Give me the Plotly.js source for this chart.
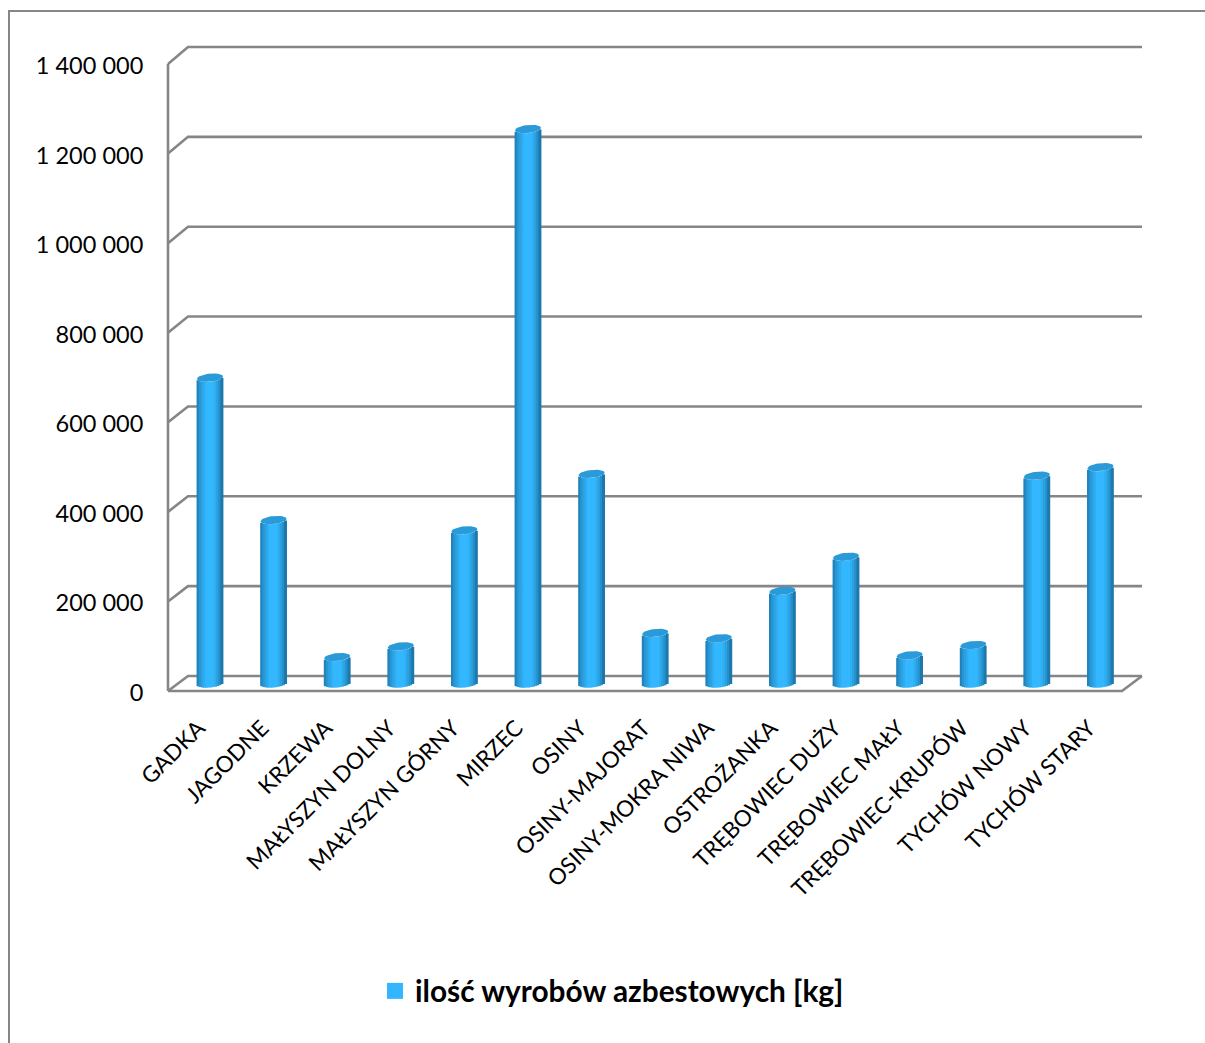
<!DOCTYPE html>
<html><head><meta charset="utf-8">
<script src="https://cdn.plot.ly/plotly-3.0.1.min.js"></script>
<style>html,body{margin:0;padding:0;background:#fff}#c{width:1205px;height:1043px}</style>
</head><body><div id="c"></div>
<script>
const categories = ["GADKA","JAGODNE","KRZEWA","MAŁYSZYN DOLNY","MAŁYSZYN GÓRNY","MIRZEC","OSINY","OSINY-MAJORAT","OSINY-MOKRA NIWA","OSTROŻANKA","TRĘBOWIEC DUŻY","TRĘBOWIEC MAŁY","TRĘBOWIEC-KRUPÓW","TYCHÓW NOWY","TYCHÓW STARY"];
const values = [683000,365000,59000,83000,342000,1238000,468000,113000,101000,207000,283000,63000,86000,464000,483000];
const tickValues = [0,200000,400000,600000,800000,1000000,1200000,1400000];
const tickLabels = ["0","200 000","400 000","600 000","800 000","1 000 000","1 200 000","1 400 000"];
const seriesName = "ilość wyrobów azbestowych [kg]";
const seriesColor = "#33b5ff";
const gridColor = "#868686";

// page geometry
const W=1205,H=1043,L=160,R=1150,T=40,B=700;
const step=63.6, c0=210, S=627/1400000;
const xAt=p=>(p-c0)/step;
const frontL=xAt(168),backL=xAt(188),frontR=xAt(1122),backR=xAt(1142);
const back=v=>(691-(676-v*629/1400000))/S;
const idx=categories.map((_,i)=>i);

// frame
const fx=[],fy=[];
tickValues.forEach(v=>{fx.push(frontL,backL,backR,null);fy.push(v,back(v),back(v),null);});
fx.push(frontL,frontL,null,frontL,frontR,backR);
fy.push(0,1400000,null,0,0,back(0));
const data=[{type:'scatter',mode:'lines',x:fx,y:fy,xaxis:'x',yaxis:'y',showlegend:false,hoverinfo:'skip',line:{color:gridColor,width:2.6}}];

// cylinder sides as strips of bars
const stops=[[-1,[28,122,176]],[-0.75,[40,150,210]],[-0.25,[51,183,255]],[0.3,[51,183,255]],[0.7,[40,152,212]],[1,[24,108,158]]];
function colorAt(u){for(let i=1;i<stops.length;i++){if(u<=stops[i][0]){const a=stops[i-1],b=stops[i],t=(u-a[0])/(b[0]-a[0]);return 'rgb('+a[1].map((c,k)=>Math.round(c+(b[1][k]-c)*t)).join(',')+')';}}return 'rgb(24,108,158)';}
const halfPx=13, stripPx=3, N=12, halfW=halfPx/step, ry=4/S, tilt=1.2/S;
for(let s=0;s<N;s++){
  const u=-1+(s+0.5)*2/N, e=Math.sqrt(1-u*u);
  const base=idx.map(()=>-ry*e+tilt*u);
  const top=values.map(v=>v-ry*e+tilt*u);
  data.push({type:'bar',x:idx.map(i=>i+u*halfW),y:top.map((t,i)=>t-base[i]),base:base,width:stripPx/step,xaxis:'x',yaxis:'y2',showlegend:false,hoverinfo:'skip',marker:{color:colorAt(u),line:{width:0}}});
}
// cylinder tops
const ex=[],ey=[];
values.forEach((v,i)=>{for(let a=0;a<=40;a++){const t=a/40*2*Math.PI,c=Math.cos(t);ex.push(i+c*halfW);ey.push(v+ry*Math.sin(t)+tilt*c);}ex.push(null);ey.push(null);});
data.push({type:'scatter',mode:'lines',x:ex,y:ey,fill:'toself',fillcolor:'#2a9ad8',line:{width:0,color:'#2a9ad8'},xaxis:'x',yaxis:'y2',showlegend:false,hoverinfo:'skip'});
// legend entry
data.push({type:'scatter',mode:'markers',x:[null],y:[null],name:seriesName,xaxis:'x',yaxis:'y2',hoverinfo:'skip',marker:{symbol:'square',size:18,color:seriesColor}});

const px=p=>(p-L)/(R-L), py=p=>(B-p)/(B-T);
const layout={
  width:W,height:H,autosize:false,paper_bgcolor:'#fff',plot_bgcolor:'rgba(0,0,0,0)',
  margin:{l:L,r:W-R,t:T,b:H-B,pad:0},
  barmode:'overlay',showlegend:true,
  font:{family:'Lato, sans-serif',color:'#000'},
  xaxis:{range:[xAt(L),xAt(R)],tickmode:'array',tickvals:idx.map(i=>i-0.18),ticktext:categories,tickangle:-45,showgrid:false,zeroline:false,showline:false,ticks:'outside',ticklen:5,tickcolor:'rgba(0,0,0,0)',tickfont:{family:'Lato, sans-serif',size:22.5,color:'#000'}},
  yaxis:{range:[(691-B)/S,(691-T)/S],tickmode:'array',tickvals:tickValues.map(v=>v-1.7/S),ticktext:tickLabels,showgrid:false,zeroline:false,showline:false,ticks:'outside',ticklen:11,tickcolor:'rgba(0,0,0,0)',tickfont:{family:'Lato, sans-serif',size:23.5,color:'#000'}},
  yaxis2:{overlaying:'y',range:[(683.5-B)/S,(683.5-T)/S],visible:false,showgrid:false,zeroline:false},
  legend:{x:px(375),xanchor:'left',y:py(965),yanchor:'top',bgcolor:'rgba(0,0,0,0)',font:{family:'Lato, sans-serif',size:29.8,weight:700,color:'#000'},itemwidth:30},
  shapes:[
    {type:'line',xref:'paper',yref:'paper',x0:px(9),x1:px(1205),y0:py(11),y1:py(11),line:{color:gridColor,width:2},layer:'below'},
    {type:'line',xref:'paper',yref:'paper',x0:px(9),x1:px(9),y0:py(10),y1:py(1043),line:{color:gridColor,width:2},layer:'below'}
  ]
};
Plotly.newPlot('c',data,layout,{displayModeBar:false,staticPlot:true});
</script></body></html>
